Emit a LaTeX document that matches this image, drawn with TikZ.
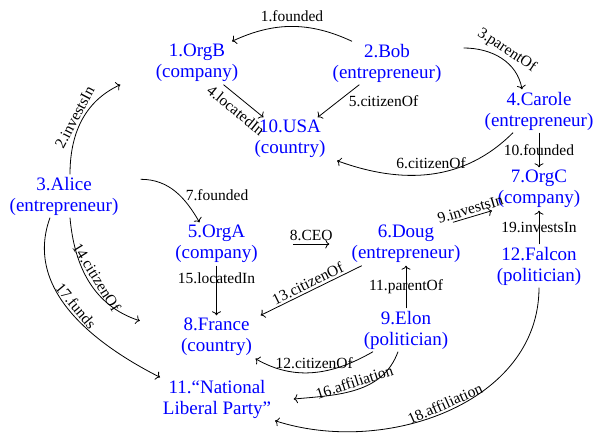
\documentclass[tikz,border=0pt]{standalone}
\usepackage{fontspec}
\setmainfont{Liberation Serif}
\usetikzlibrary{arrows.meta}
\begin{document}
\begin{tikzpicture}[x=1pt,y=1pt,
  ent/.style={text=blue, align=center, minimum width=153pt, minimum height=43pt, inner sep=1pt, font=\fontsize{19}{21}\selectfont},
  lbl/.style={font=\fontsize{15.5}{17}\selectfont, text=black, inner sep=2pt},
  edge/.style={-{To[length=4pt,width=9pt]}, line width=0.8pt}]
\useasboundingbox (0,0) rectangle (595,-436);
\node[ent] (orgb) at (197,-63) {1.OrgB\\(company)};
\node[ent] (bob) at (387,-63) {2.Bob\\(entrepreneur)};
\node[ent] (usa) at (290,-139) {10.USA\\(country)};
\node[ent] (carole) at (539,-111) {4.Carole\\(entrepreneur)};
\node[ent] (alice) at (64,-196) {3.Alice\\(entrepreneur)};
\node[ent] (orgc) at (539,-189) {7.OrgC\\(company)};
\node[ent] (orga) at (216.5,-244) {5.OrgA\\(company)};
\node[ent] (doug) at (406,-244) {6.Doug\\(entrepreneur)};
\node[ent] (falcon) at (539,-266) {12.Falcon\\(politician)};
\node[ent] (france) at (216.5,-337) {8.France\\(country)};
\node[ent] (elon) at (406,-330) {9.Elon\\(politician)};
\node[ent] (party) at (217,-399) {11.“National\\Liberal Party”};

\draw[edge] ([xshift=-35pt]bob.north) to[out=155,in=25] node[lbl,above=2pt]{1.founded} ([xshift=35pt]orgb.north);
\draw[edge] ([xshift=6pt]alice.north) to[out=90,in=205] node[lbl,sloped,above]{2.investsIn} (orgb.south west);
\draw[edge] ([yshift=15pt]bob.east) to[out=0,in=100] node[lbl,sloped,above]{3.parentOf} ([xshift=-17pt]carole.north);
\draw[edge] (orgb) -- node[lbl,sloped,below=4pt]{4.locatedIn} (usa);
\draw[edge] (bob) -- node[lbl,right=8pt]{5.citizenOf} (usa);
\draw[edge] ([xshift=-26pt]carole.south) to[out=225,in=-20] node[lbl,above=3pt]{6.citizenOf} ([xshift=47pt]usa.south);
\draw[edge] ([yshift=-5pt]alice.north east) to[out=0,in=120] node[lbl,right=8pt,yshift=-4pt]{7.founded} ([xshift=-17pt]orga.north);
\draw[edge] (orga) -- node[lbl,above=1pt]{8.CEO} (doug);
\draw[edge] ([xshift=47pt]doug.north) -- node[lbl,sloped,above]{9.investsIn} ([xshift=-47pt]orgc.south);
\draw[edge] (carole) -- node[lbl]{10.founded} (orgc);
\draw[edge] (elon) -- node[lbl]{11.parentOf} (doug);
\draw[edge] ([xshift=-33pt]elon.south) to[out=210,in=-30] node[lbl,above=1pt]{12.citizenOf} ([xshift=39pt]france.south);
\draw[edge] (doug) -- node[lbl,sloped,above]{13.citizenOf} (france);
\draw[edge] ([xshift=6pt]alice.south) to[out=-85,in=162] node[lbl,sloped,above=1pt]{14.citizenOf} ([yshift=-5.5pt]france.north west);
\draw[edge] (orga) -- node[lbl,pos=0.25]{15.locatedIn} (france);
\draw[edge] ([xshift=-8pt]elon.south) to[out=250,in=5] node[lbl,sloped,above]{16.affiliation} (party.east);
\draw[edge] ([xshift=-14pt]alice.south) to[out=250,in=153] node[lbl,sloped,above]{17.funds} ([xshift=-57pt]party.north);
\draw[edge] (falcon.south) to[out=-90,in=-18] node[lbl,sloped,above]{18.affiliation} ([xshift=58pt]party.south);
\draw[edge] (falcon) -- node[lbl]{19.investsIn} (orgc);
\end{tikzpicture}
\end{document}
